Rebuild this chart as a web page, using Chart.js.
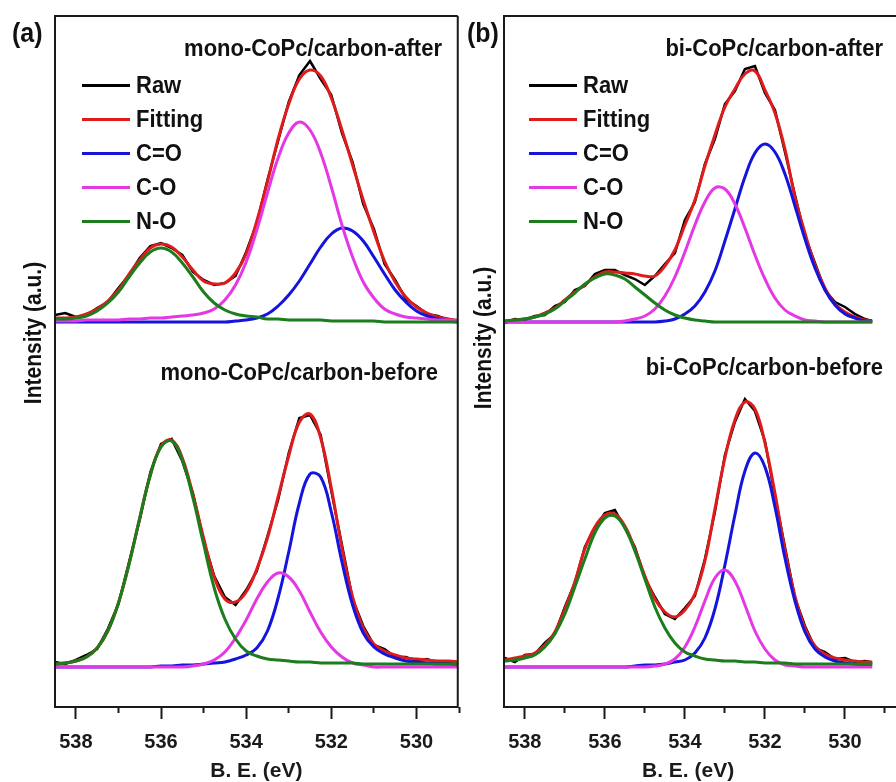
<!DOCTYPE html>
<html lang="en">
<head>
<meta charset="UTF-8">
<title>O 1s XPS - mono/bi-CoPc/carbon</title>
<script src="https://cdn.jsdelivr.net/npm/chart.js@4.4.1/dist/chart.umd.min.js"></script>
<style>
  body { margin: 0; width: 896px; height: 782px; overflow: hidden; position: relative; background: #fff;
         font-family: "Liberation Sans", Arial, sans-serif; font-weight: bold; color: #111; }
  canvas { position: absolute; top: 0; }
  #chartA { left: 0; }
  #chartB { left: 460px; }
  .txt { position: absolute; white-space: nowrap; line-height: 1; }
  .panel { font-size: 25px; top: 19px; transform: scaleY(1.1); transform-origin: left top; }
  .sample { font-size: 22px; transform: scaleY(1.12); }
  .ytitle { font-size: 21px; transform: translate(-50%, -50%) rotate(-90deg) scaleY(1.12); }
  .legend { position: absolute; top: 68px; font-size: 22px; }
  .legend div { height: 34px; display: flex; align-items: center; }
  .legend b { display: inline-block; transform: scaleY(1.12); }
  .legend span { display: inline-block; width: 48px; height: 3px; margin-right: 6px; }
</style>
</head>
<body>
<canvas id="chartA" width="470" height="782"></canvas>
<canvas id="chartB" width="436" height="782"></canvas>

<div class="txt panel" style="left:12px">(a)</div>
<div class="txt panel" style="left:467px">(b)</div>
<div class="txt ytitle" style="left:33px; top:333px">Intensity (a.u.)</div>
<div class="txt ytitle" style="left:483px; top:338px">Intensity (a.u.)</div>
<div class="txt sample" style="right:454px; top:37px">mono-CoPc/carbon-after</div>
<div class="txt sample" style="right:458px; top:361px">mono-CoPc/carbon-before</div>
<div class="txt sample" style="right:13px; top:37px">bi-CoPc/carbon-after</div>
<div class="txt sample" style="right:13px; top:356px">bi-CoPc/carbon-before</div>
<div class="legend" id="legendA" style="left:82px"></div>
<div class="legend" id="legendB" style="left:529px"></div>

<script>
// binding energy grid (eV)
const energy = [538.5, 538.25, 538, 537.75, 537.5, 537.25, 537, 536.75, 536.5, 536.25,
                536, 535.75, 535.5, 535.25, 535, 534.75, 534.5, 534.25, 534, 533.75,
                533.5, 533.25, 533, 532.75, 532.5, 532.25, 532, 531.75, 531.5, 531.25,
                531, 530.75, 530.5, 530.25, 530, 529.75, 529.5, 529.25, 529];
const xTicks = [538, 537, 536, 535, 534, 533, 532, 531, 530, 529];

const seriesNames = ['Raw', 'Fitting', 'C=O', 'C-O', 'N-O'];
const seriesColors = ['#000000', '#e01b1b', '#1414dc', '#e438e4', '#1b7d1b'];

// intensity (a.u.), upper trace offset above lower trace
// (a) mono-CoPc/carbon-after
const monoAfterRaw = [392,394,390,392,399,405,419,432,449,461, 464,459,452,435,427,422,424,431,455,484,
                      527,566,605,632,646,628,612,574,545,503, 478,443,427,408,401,393,391,387,387];
const monoAfterFit = [389,389,390,393,398,406,417,433,447,459, 463,460,450,437,426,423,424,434,453,486,
                      525,568,603,628,637,631,609,577,542,507, 475,446,425,410,400,394,390,388,386];
const monoAfterCdO = [385,385,385,385,385,385,385,385,385,385, 385,385,385,385,385,385,385,386,387,389,
                      393,401,412,426,443,460,473,479,476,466, 450,433,417,405,396,391,388,386,385];
const monoAfterCO  = [386,386,386,387,387,387,387,388,388,389, 389,390,391,392,394,398,407,422,445,477,
                      514,549,574,585,577,554,520,482,450,425, 409,398,393,390,389,388,387,387,386];
const monoAfterNO  = [388,388,389,391,396,404,415,430,444,455, 459,455,444,430,415,404,397,393,391,390,
                      388,388,387,387,387,387,386,386,386,386, 386,385,385,385,385,385,385,385,385];

// (a) mono-CoPc/carbon-before
const monoBeforeRaw = [45,43,47,52,58,78,103,145,187,235, 263,268,246,214,167,131,110,102,117,136,
                       171,207,254,289,292,272,216,162,108,81, 62,58,50,50,46,48,44,45,44];
const monoBeforeFit = [43,44,46,50,59,76,104,143,189,232, 261,267,249,212,169,130,108,105,115,138,
                       169,210,251,285,293,269,219,159,110,79, 63,56,52,49,48,47,46,46,45];
const monoBeforeCdO = [40,40,40,40,40,40,40,40,40,40, 41,41,42,42,43,44,45,48,52,59,
                       76,109,155,204,233,230,195,145,102,74, 60,53,49,46,45,44,43,43,42];
const monoBeforeCO  = [40,40,40,40,40,40,40,40,40,40, 40,40,40,41,43,47,55,69,87,108,
                       125,134,130,116,95,75,60,50,44,42, 40,40,40,40,40,40,40,40,40];
const monoBeforeNO  = [43,44,46,50,59,76,104,143,189,232, 260,266,247,209,163,119,88,68,56,51,
                       48,47,46,45,45,44,44,44,44,43, 43,43,43,43,43,43,43,43,43];

// (b) bi-CoPc/carbon-after
const biAfterRaw = [384,388,387,391,392,401,405,417,421,433, 437,437,432,428,422,431,443,454,487,505,
                    543,568,603,616,638,641,614,597,555,512, 471,444,417,405,400,393,388,385,386];
const biAfterFit = [386,387,388,390,394,399,407,415,422,430, 435,435,434,433,431,431,441,457,482,507,
                    541,572,600,618,633,636,617,594,558,510, 474,442,419,403,395,390,387,386,386];
const biAfterCdO = [385,385,385,385,385,385,385,385,385,385, 385,385,385,385,385,385,386,388,393,401,
                    415,436,466,498,530,554,563,555,533,501, 468,439,417,402,393,389,386,386,385];
const biAfterCO  = [385,385,385,385,385,385,385,385,385,385, 385,385,386,388,391,398,411,430,455,482,
                    505,519,518,503,479,452,428,409,397,391, 387,386,385,385,385,385,385,385,385];
const biAfterNO  = [386,387,388,390,393,398,406,414,423,429, 433,432,428,420,412,404,397,392,389,387,
                    386,385,385,385,385,385,385,385,385,385, 385,385,385,385,385,385,385,385,385];

// (b) bi-CoPc/carbon-before
const biBeforeRaw = [49,45,52,53,64,73,100,124,160,179, 194,197,179,160,129,110,93,88,99,111,
                     148,195,252,285,308,296,266,211,160,109, 81,59,55,48,49,45,46,44,45];
const biBeforeFit = [47,49,51,54,62,75,98,125,158,180, 192,193,181,158,131,108,95,90,97,113,
                     146,198,249,287,305,298,264,214,157,111, 79,61,53,49,47,46,45,45,44];
const biBeforeCdO = [40,40,40,40,40,40,40,40,40,40, 40,40,40,41,42,42,43,45,47,54,
                     69,98,142,192,236,254,240,200,149,106, 75,58,50,46,44,43,42,42,41];
const biBeforeCO  = [40,40,40,40,40,40,40,40,40,40, 40,40,40,40,40,41,43,48,60,80,
                     106,129,137,126,102,76,58,47,42,41, 40,40,40,40,40,40,40,40,40];
const biBeforeNO  = [46,47,49,52,60,73,93,120,148,174, 189,191,179,156,128,100,79,64,55,51,
                     48,47,46,46,45,45,44,44,44,43, 43,43,43,43,43,43,43,43,43];

const FONT = '"Liberation Sans", Arial, sans-serif';
const INK = '#1a1a1a';

// one curve; raw data stays jagged, fits are smoothed
function curve(ys, idx) {
  const raw = idx === 0;
  return {
    label: seriesNames[idx],
    data: energy.map((e, i) => ({ x: e, y: ys[i] })),
    borderColor: seriesColors[idx],
    borderWidth: raw ? 2.5 : 3,
    pointRadius: 0,
    fill: false,
    tension: raw ? 0 : 0.4
  };
}

// first dataset is painted last, so components sit on top of fit and raw
function spectrum(raw, fit, cdo, co, no) {
  return [curve(no, 4), curve(co, 3), curve(cdo, 2), curve(fit, 1), curve(raw, 0)];
}

// box around the plot area (right side optional, panel b is cut off)
const framePlugin = {
  id: 'frame',
  afterDatasetsDraw(chart, args, opts) {
    const { ctx, chartArea: a } = chart;
    const r = opts.right ? a.right : chart.width + 5;
    ctx.save();
    ctx.strokeStyle = INK;
    ctx.lineWidth = 2;
    ctx.beginPath();
    ctx.moveTo(r, a.top);
    ctx.lineTo(a.left, a.top);
    ctx.lineTo(a.left, a.bottom);
    ctx.lineTo(r, a.bottom);
    if (opts.right) ctx.lineTo(a.right, a.top);
    ctx.stroke();
    ctx.restore();
  }
};

function makeChart(id, datasets, xMin, xMax, padLeft, padRight, right) {
  return new Chart(document.getElementById(id), {
    type: 'line',
    data: { datasets: datasets },
    plugins: [framePlugin],
    options: {
      responsive: false,
      animation: false,
      layout: { padding: { left: padLeft, right: padRight, top: 16, bottom: 0 } },
      plugins: {
        legend: { display: false },
        tooltip: { enabled: false },
        frame: { right: right }
      },
      scales: {
        x: {
          type: 'linear',
          reverse: true,
          min: xMin,
          max: xMax,
          afterBuildTicks: ax => { ax.ticks = xTicks.map(v => ({ value: v })); },
          afterFit: ax => { ax.height = 75; },
          border: { display: false },
          grid: {
            drawOnChartArea: false,
            drawTicks: true,
            tickLength: 12,
            tickWidth: 2,
            tickColor: INK,
            tickBorderDash: c => (c.tick && Math.abs(c.tick.value % 2) === 1) ? [6, 40] : []
          },
          ticks: {
            autoSkip: false,
            maxRotation: 0,
            padding: 11,
            color: INK,
            font: { family: FONT, size: 20, weight: 'bold' },
            callback: v => (v % 2 === 0 ? String(v) : '')
          },
          title: {
            display: true,
            text: 'B. E. (eV)',
            color: INK,
            padding: { top: 0, bottom: 0 },
            font: { family: FONT, size: 21, weight: 'bold', lineHeight: 1 }
          }
        },
        y: { display: false, min: 0, max: 691 }
      }
    }
  });
}

makeChart('chartA',
  spectrum(monoAfterRaw, monoAfterFit, monoAfterCdO, monoAfterCO, monoAfterNO)
    .concat(spectrum(monoBeforeRaw, monoBeforeFit, monoBeforeCdO, monoBeforeCO, monoBeforeNO)),
  529.03, 538.49, 55, 11, true);

makeChart('chartB',
  spectrum(biAfterRaw, biAfterFit, biAfterCdO, biAfterCO, biAfterNO)
    .concat(spectrum(biBeforeRaw, biBeforeFit, biBeforeCdO, biBeforeCO, biBeforeNO)),
  529.32, 538.52, 44, 0, false);

// legend boxes inside the upper traces
['legendA', 'legendB'].forEach(id => {
  const box = document.getElementById(id);
  seriesNames.forEach((name, i) => {
    const row = document.createElement('div');
    const sw = document.createElement('span');
    const tx = document.createElement('b');
    sw.style.background = seriesColors[i];
    tx.textContent = name;
    row.appendChild(sw);
    row.appendChild(tx);
    box.appendChild(row);
  });
});
</script>
</body>
</html>
